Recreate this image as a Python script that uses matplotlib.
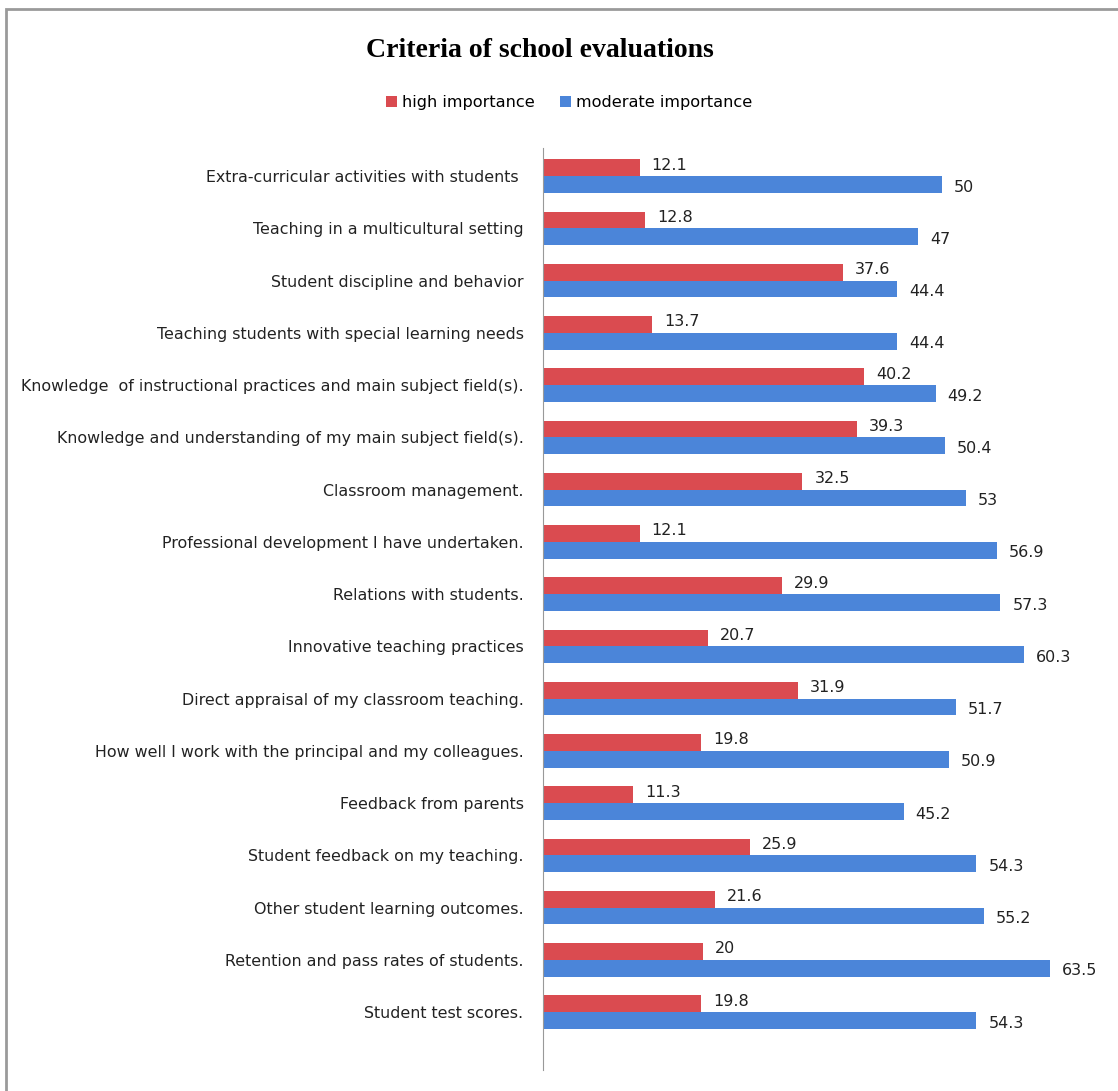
import matplotlib.pyplot as plt
from matplotlib.patches import Rectangle
import numpy as np

categories = [
    "Extra-curricular activities with students ",
    "Teaching in a multicultural setting",
    "Student discipline and behavior",
    "Teaching students with special learning needs",
    "Knowledge  of instructional practices and main subject field(s).",
    "Knowledge and understanding of my main subject field(s).",
    "Classroom management.",
    "Professional development I have undertaken.",
    "Relations with students.",
    "Innovative teaching practices",
    "Direct appraisal of my classroom teaching.",
    "How well I work with the principal and my colleagues.",
    "Feedback from parents",
    "Student feedback on my teaching.",
    "Other student learning outcomes.",
    "Retention and pass rates of students.",
    "Student test scores.",
]
high = [12.1, 12.8, 37.6, 13.7, 40.2, 39.3, 32.5, 12.1, 29.9, 20.7, 31.9, 19.8, 11.3, 25.9, 21.6, 20, 19.8]
moderate = [50, 47, 44.4, 44.4, 49.2, 50.4, 53, 56.9, 57.3, 60.3, 51.7, 50.9, 45.2, 54.3, 55.2, 63.5, 54.3]

red = "#da4b50"
blue = "#4b85d9"

fig = plt.figure(figsize=(11.18, 10.91), dpi=100)
ax = fig.add_axes([0.4857, 0.0192, 0.4997, 0.8451])

n = len(categories)
y = np.arange(n)[::-1]
h = 0.32
ax.barh(y + h / 2, high, height=h, color=red, label="high importance")
ax.barh(y - h / 2, moderate, height=h, color=blue, label="moderate importance")

for yi, v in zip(y, high):
    ax.text(v + 1.5, yi + h / 2 + 0.05, f"{v:g}", va="center", ha="left", fontsize=11.5, color="#222222")
for yi, v in zip(y, moderate):
    ax.text(v + 1.5, yi - h / 2 - 0.05, f"{v:g}", va="center", ha="left", fontsize=11.5, color="#222222")

ax.set_xlim(0, 70)
ax.set_ylim(-1.11, n - 1 + 0.536)
ax.set_yticks(y)
ax.set_yticklabels(categories, fontsize=11.4, color="#222222")
ax.tick_params(axis="y", length=0, pad=14)
ax.set_xticks([])
for s in ["top", "right", "bottom"]:
    ax.spines[s].set_visible(False)
ax.spines["left"].set_color("#999999")

fig.text(0.4826, 0.954, "Criteria of school evaluations", ha="center", va="center",
         fontsize=20, fontweight="bold", family="Liberation Serif")
fig.legend(loc="center", bbox_to_anchor=(0.509, 0.906), ncol=2, frameon=False,
           fontsize=11.6, handlelength=0.7, handleheight=0.7, handletextpad=0.3,
           columnspacing=1.6)

fig.patches.append(Rectangle((6 / 1118, -0.05), 1.2, 1 - 9 / 1091 + 0.05,
                             transform=fig.transFigure, fill=False,
                             edgecolor="#9a9a9a", linewidth=2))

fig.savefig("out.png", dpi=100)
